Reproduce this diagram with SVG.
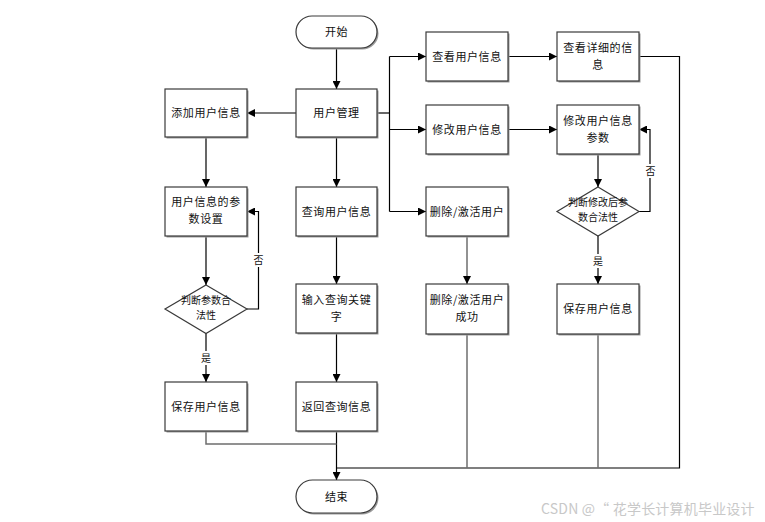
<svg xmlns="http://www.w3.org/2000/svg" width="765" height="522" viewBox="0 0 765 522">
<defs>
<marker id="arr" viewBox="0 0 10 10" refX="10" refY="5" markerWidth="8" markerHeight="8" markerUnits="userSpaceOnUse" orient="auto">
<path d="M0,0 L10,5 L0,10 z" fill="#000"/>
</marker>
</defs>
<style>
.box{fill:#fff;stroke:#3a3a3a;stroke-width:1.2}
.sh{fill:#9a9a9a}
.t{font-family:"Noto Sans CJK SC","Liberation Sans",sans-serif;font-size:11px;fill:#111;text-anchor:middle;letter-spacing:0.6px}
.ts{font-family:"Noto Sans CJK SC","Liberation Sans",sans-serif;font-size:10px;fill:#111;text-anchor:middle}
.lbl{font-family:"Noto Sans CJK SC","Liberation Sans",sans-serif;font-size:10px;fill:#111;text-anchor:middle}
.c{fill:none;stroke:#000;stroke-width:1.2}
.g{fill:none;stroke:#6e6e6e;stroke-width:1.5}
.a{marker-end:url(#arr)}
.wm{font-family:"Noto Sans CJK SC","Liberation Sans",sans-serif;font-size:14px;fill:#c8c8c8;letter-spacing:0.2px}
</style>
<rect width="765" height="522" fill="#fff"/>

<g id="connectors">
<path class="c a" d="M336.5,48 V89"/>
<path class="c a" d="M296,113 H247"/>
<path class="c a" d="M336.5,137 V187"/>
<path class="c" d="M377,113 H389.5"/>
<path class="c" d="M389.5,56.5 V211.5"/>
<path class="c a" d="M389.5,56.5 H426"/>
<path class="c a" d="M389.5,129.5 H426"/>
<path class="c a" d="M389.5,211.5 H426"/>
<path class="c a" d="M508,56.5 H557"/>
<path class="c a" d="M508,129.5 H557"/>
<path class="c a" d="M598,154 V187"/>
<path class="c a" d="M639,211.5 H650 V129.5 H639"/>
<path class="c a" d="M598,236 V284"/>
<path class="g a" d="M467,236 V284"/>
<path class="c a" d="M206,137 V187"/>
<path class="c a" d="M206,236 V285"/>
<path class="c a" d="M247,309 H258.5 V211.5 H247"/>
<path class="c a" d="M206,333 V382"/>
<path class="c a" d="M336.5,236 V284"/>
<path class="c a" d="M336.5,333.5 V382"/>
<path class="c a" d="M336.5,431 V480"/>
<path class="g" d="M206,431 V444 H336.5"/>
<path class="c" d="M639,56.5 H679.5 V468 H336.5"/>
<path class="g" d="M467,334 V468"/>
<path class="g" d="M598,334 V468"/>
<rect x="252" y="253" width="13" height="14" fill="#fff"/>
<text class="lbl" x="258.5" y="264">否</text>
<rect x="644" y="164" width="13" height="14" fill="#fff"/>
<text class="lbl" x="650.5" y="175">否</text>
<rect x="199" y="351" width="14" height="14" fill="#fff"/>
<text class="lbl" x="206" y="362">是</text>
<rect x="591" y="254" width="14" height="14" fill="#fff"/>
<text class="lbl" x="598" y="265">是</text>
</g>

<g id="start">
<rect class="sh" x="297.5" y="17.5" width="81" height="32" rx="16"/>
<rect class="box" x="296" y="16" width="81" height="32" rx="16"/>
<text class="t" x="336.5" y="36">开始</text>
</g>
<g id="user-mgmt">
<rect class="sh" x="297.5" y="90.5" width="81" height="48"/>
<rect class="box" x="296" y="89" width="81" height="48"/>
<text class="t" x="336.5" y="117">用户管理</text>
</g>
<g id="add-user">
<rect class="sh" x="166.5" y="90.5" width="82" height="48"/>
<rect class="box" x="165" y="89" width="82" height="48"/>
<text class="t" x="206" y="117">添加用户信息</text>
</g>
<g id="param-set">
<rect class="sh" x="166.5" y="188.5" width="82" height="49"/>
<rect class="box" x="165" y="187" width="82" height="49"/>
<text class="t" x="206" y="206">用户信息的参</text>
<text class="t" x="206" y="222.5">数设置</text>
</g>
<g id="check-valid">
<polygon class="box" points="206,285 247,309 206,333.5 165,309"/>
<text class="ts" x="206" y="304">判断参数合</text>
<text class="ts" x="206" y="319">法性</text>
</g>
<g id="save-user-1">
<rect class="sh" x="166.5" y="383.5" width="82" height="49"/>
<rect class="box" x="165" y="382" width="82" height="49"/>
<text class="t" x="206" y="411">保存用户信息</text>
</g>
<g id="query-user">
<rect class="sh" x="297.5" y="188.5" width="81" height="49"/>
<rect class="box" x="296" y="187" width="81" height="49"/>
<text class="t" x="336.5" y="215.5">查询用户信息</text>
</g>
<g id="input-keyword">
<rect class="sh" x="297.5" y="285.5" width="81" height="49"/>
<rect class="box" x="296" y="284" width="81" height="49"/>
<text class="t" x="336.5" y="304">输入查询关键</text>
<text class="t" x="336.5" y="320.5">字</text>
</g>
<g id="return-query">
<rect class="sh" x="297.5" y="383.5" width="81" height="49"/>
<rect class="box" x="296" y="382" width="81" height="49"/>
<text class="t" x="336.5" y="411">返回查询信息</text>
</g>
<g id="end">
<rect class="sh" x="297.5" y="481.5" width="81" height="33" rx="16.5"/>
<rect class="box" x="296" y="480" width="81" height="33" rx="16.5"/>
<text class="t" x="336.5" y="500.5">结束</text>
</g>
<g id="view-user">
<rect class="sh" x="427.5" y="33.5" width="82" height="49"/>
<rect class="box" x="426" y="32" width="82" height="49"/>
<text class="t" x="467" y="60.5">查看用户信息</text>
</g>
<g id="view-detail">
<rect class="sh" x="558.5" y="33.5" width="82" height="49"/>
<rect class="box" x="557" y="32" width="82" height="49"/>
<text class="t" x="598" y="52">查看详细的信</text>
<text class="t" x="598" y="68.5">息</text>
</g>
<g id="modify-user">
<rect class="sh" x="427.5" y="106.5" width="82" height="49"/>
<rect class="box" x="426" y="105" width="82" height="49"/>
<text class="t" x="467" y="133.5">修改用户信息</text>
</g>
<g id="modify-param">
<rect class="sh" x="558.5" y="106.5" width="82" height="49"/>
<rect class="box" x="557" y="105" width="82" height="49"/>
<text class="t" x="598" y="125">修改用户信息</text>
<text class="t" x="598" y="141.5">参数</text>
</g>
<g id="check-modified">
<polygon class="box" points="598,187 639,211.5 598,236 557,211.5"/>
<text class="ts" x="598" y="206">判断修改后参</text>
<text class="ts" x="598" y="221">数合法性</text>
</g>
<g id="save-user-2">
<rect class="sh" x="558.5" y="285.5" width="82" height="50"/>
<rect class="box" x="557" y="284" width="82" height="50"/>
<text class="t" x="598" y="313">保存用户信息</text>
</g>
<g id="delete-user">
<rect class="sh" x="427.5" y="188.5" width="82" height="49"/>
<rect class="box" x="426" y="187" width="82" height="49"/>
<text class="t" x="467" y="215.5">删除/激活用户</text>
</g>
<g id="delete-success">
<rect class="sh" x="427.5" y="285.5" width="82" height="50"/>
<rect class="box" x="426" y="284" width="82" height="50"/>
<text class="t" x="467" y="304">删除/激活用户</text>
<text class="t" x="467" y="320.5">成功</text>
</g>

<text class="wm" x="541" y="514">CSDN @“ 花学长计算机毕业设计</text>
</svg>
